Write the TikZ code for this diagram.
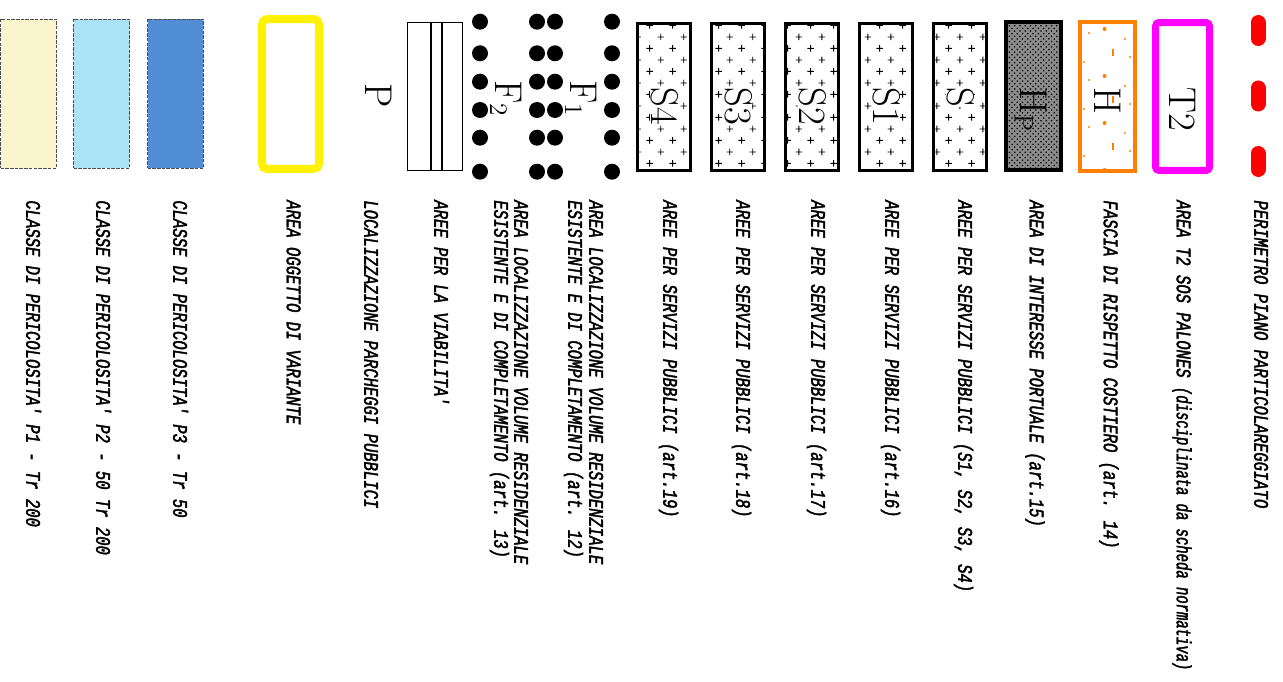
\documentclass[tikz,border=0pt]{standalone}
\usepackage{fontspec}
\usetikzlibrary{patterns,calc}
\newfontfamily\legendfont[FakeStretch=0.75, FakeBold=2]{Liberation Mono}
\newfontfamily\legendnarrow[FakeStretch=0.67, FakeBold=2]{Liberation Mono}
\definecolor{hOrange}{RGB}{255,128,0}
\definecolor{tMagenta}{RGB}{255,0,255}
\definecolor{pOne}{RGB}{250,245,205}
\definecolor{pTwo}{RGB}{172,226,248}
\definecolor{pThree}{RGB}{82,142,214}
\pgfdeclarepatternformonly{pluses}{\pgfqpoint{0pt}{0pt}}{\pgfqpoint{13.1pt}{13.3pt}}{\pgfqpoint{13.1pt}{13.3pt}}{%
  \pgfsetlinewidth{0.5pt}
  \pgfpathmoveto{\pgfqpoint{1.4pt}{3.3pt}}\pgfpathlineto{\pgfqpoint{5.2pt}{3.3pt}}
  \pgfpathmoveto{\pgfqpoint{3.3pt}{1.4pt}}\pgfpathlineto{\pgfqpoint{3.3pt}{5.2pt}}
  \pgfpathmoveto{\pgfqpoint{7.95pt}{9.95pt}}\pgfpathlineto{\pgfqpoint{11.75pt}{9.95pt}}
  \pgfpathmoveto{\pgfqpoint{9.85pt}{8.05pt}}\pgfpathlineto{\pgfqpoint{9.85pt}{11.85pt}}
  \pgfusepath{stroke}}

\begin{document}
\begin{tikzpicture}[
  x=0.02cm, y=-0.02cm,
  lbl/.style={rotate=-90, anchor=mid west, inner sep=0pt, font=\legendfont\itshape\fontsize{11.8}{14}\selectfont},
  sym/.style={rotate=-90, anchor=base west, inner sep=0pt, font=\fontsize{22}{22}\selectfont},
  symw/.style={sym, fill=white},
  area/.style={rectangle, inner sep=0pt, minimum width=1.1cm, minimum height=2.96cm},
  svc/.style={area, draw, line width=0.06cm, minimum width=1.07cm, pattern=pluses},
  hazard/.style={area, draw=black!70, line width=0.4pt, dash pattern=on 2pt off 0.7pt, minimum width=1.12cm, minimum height=2.98cm},
  dot/.style={fill=black}
]
  \useasboundingbox (0,0) rectangle (1283,682);
  \coordinate (ltop) at (0,200);
  \coordinate (stop) at (0,87);

  % Perimeter (red dashes)
  \coordinate (perA) at (1258,22.5);
  \coordinate (perB) at (1258,169.5);
  \draw[red, line width=0.3cm, line cap=round, dash pattern=on 0.32cm off 0.99cm] (perA) -- (perB);
  \node[lbl] (perTxt) at (perA |- ltop) {PERIMETRO PIANO PARTICOLAREGGIATO};

  % T2
  \node[area, draw=tMagenta, line width=0.14cm, rounded corners=2pt, minimum width=1.08cm] (t2) at (1182.5,96.5) {};
  \node[sym] (t2Sym) at ($(t2.center |- stop)+(-13,0)$) {T2};
  \node[lbl] (t2Txt) at ($(t2 |- ltop)+(-2,0)$) {AREA T2 SOS PALONES {\legendnarrow\itshape(disciplinata da scheda normativa)}};

  % H, coastal strip
  \node[area, draw=hOrange, line width=0.08cm, minimum height=2.98cm] (hbox) at (1107.5,96.5) {};
  \begin{scope}
    \clip (hbox.south west) rectangle (hbox.north east);
    \foreach \k in {0,...,3} {
      \pgfmathsetmacro{\y}{29+47*\k}
      \fill[hOrange] (1104.5,\y) circle[radius=2];
      \fill[hOrange] (1089,\y+4) circle[radius=1.1];
      \fill[hOrange] (1125,\y+10) circle[radius=1.1];
      \draw[hOrange, line width=0.035cm] (1113,\y+20) -- (1113,\y+27);
      \fill[hOrange] (1130,\y+28) circle[radius=1.1];
      \fill[hOrange] (1084,\y+33) circle[radius=1.1];
    }
  \end{scope}
  \node[sym] (hSym) at ($(hbox.center |- stop)+(-13,0)$) {H};
  \node[lbl] (hTxt) at (hbox |- ltop) {FASCIA DI RISPETTO COSTIERO (art. 14)};

  % HP, port area
  \node[area, draw, line width=0.08cm, preaction={fill=black!45}, pattern=crosshatch dots, pattern color=black, minimum height=2.96cm] (hp) at (1033.5,96) {};
  \node[sym] (hpSym) at ($(hp.center |- stop)+(-13,0)$) {H$_{\mathrm{P}}$};
  \node[lbl] (hpTxt) at (hp |- ltop) {AREA DI INTERESSE PORTUALE (art.15)};

  % public services
  \node[svc] (s0) at (960,97) {};
  \node[svc] (s1) at (886,97) {};
  \node[svc] (s2) at (812,97) {};
  \node[svc] (s3) at (738,97) {};
  \node[svc] (s4) at (664,97) {};
  \node[symw] (s0Sym) at ($(s0.center |- stop)+(-13,0)$) {S};
  \node[symw] (s1Sym) at ($(s1.center |- stop)+(-13,0)$) {S1};
  \node[symw] (s2Sym) at ($(s2.center |- stop)+(-13,0)$) {S2};
  \node[symw] (s3Sym) at ($(s3.center |- stop)+(-13,0)$) {S3};
  \node[symw] (s4Sym) at ($(s4.center |- stop)+(-13,0)$) {S4};
  \node[lbl] (s0Txt) at ($(s0 |- ltop)+(2,0)$) {AREE PER SERVIZI PUBBLICI (S1, S2, S3, S4)};
  \node[lbl] (s1Txt) at ($(s1 |- ltop)+(3,0)$) {AREE PER SERVIZI PUBBLICI (art.16)};
  \node[lbl] (s2Txt) at ($(s2 |- ltop)+(3,0)$) {AREE PER SERVIZI PUBBLICI (art.17)};
  \node[lbl] (s3Txt) at ($(s3 |- ltop)+(2,0)$) {AREE PER SERVIZI PUBBLICI (art.18)};
  \node[lbl] (s4Txt) at ($(s4 |- ltop)+(3,0)$) {AREE PER SERVIZI PUBBLICI (art.19)};

  % F1 / F2, residential volumes (dots)
  \foreach \cx in {480,537,555,612}
    \foreach \cy in {21.7,53.3,81.7,110,137.7,171.7}
      \fill[dot] (\cx,\cy) circle[radius=8];
  \coordinate (f1c) at (583.5,96);
  \coordinate (f2c) at (508.5,96);
  \node[sym] (f1Sym) at ($(f1c)+(-13,-16)$) {F$_1$};
  \node[sym] (f2Sym) at ($(f2c)+(-13,-16)$) {F$_2$};
  \node[lbl] (f1TxtA) at ($(f1c |- ltop)+(9.5,0)$) {AREA LOCALIZZAZIONE VOLUME RESIDENZIALE};
  \node[lbl] (f1TxtB) at ($(f1c |- ltop)+(-11.5,0)$) {ESISTENTE E DI COMPLETAMENTO (art. 12)};
  \node[lbl] (f2TxtA) at ($(f2c |- ltop)+(9.5,0)$) {AREA LOCALIZZAZIONE VOLUME RESIDENZIALE};
  \node[lbl] (f2TxtB) at ($(f2c |- ltop)+(-10.5,0)$) {ESISTENTE E DI COMPLETAMENTO (art. 13)};

  % roads
  \node[area, draw, line width=0.02cm] (road) at (435,96.5) {};
  \draw[line width=0.04cm] ([xshift=-0.08cm]road.north) -- ([xshift=-0.08cm]road.south);
  \draw[line width=0.04cm] ([xshift=0.14cm]road.north) -- ([xshift=0.14cm]road.south);
  \node[lbl] (roadTxt) at ($(road |- ltop)+(3,0)$) {AREE PER LA VIABILITA'};

  % parking
  \node[sym] (park) at (365,83) {P};
  \node[lbl] (parkTxt) at (368,200) {LOCALIZZAZIONE PARCHEGGI PUBBLICI};

  % variant area
  \node[area, draw=yellow, line width=0.16cm, rounded corners=3pt, minimum width=1.14cm, minimum height=3cm] (var) at (290.5,94) {};
  \node[lbl] (varTxt) at (var |- ltop) {AREA OGGETTO DI VARIANTE};

  % hazard classes
  \node[hazard, fill=pThree] (haz3) at (175.5,93.5) {};
  \node[hazard, fill=pTwo] (haz2) at (101.5,93.5) {};
  \node[hazard, fill=pOne] (haz1) at (28.5,93.5) {};
  \node[lbl] (haz3Txt) at ($(haz3 |- ltop)+(1.5,0)$) {CLASSE DI PERICOLOSITA' P3 - Tr 50};
  \node[lbl] (haz2Txt) at ($(haz2 |- ltop)+(-1.5,0)$) {CLASSE DI PERICOLOSITA' P2 - 50 Tr 200};
  \node[lbl] (haz1Txt) at ($(haz1 |- ltop)+(1.5,0)$) {CLASSE DI PERICOLOSITA' P1 - Tr 200};
\end{tikzpicture}
\end{document}
